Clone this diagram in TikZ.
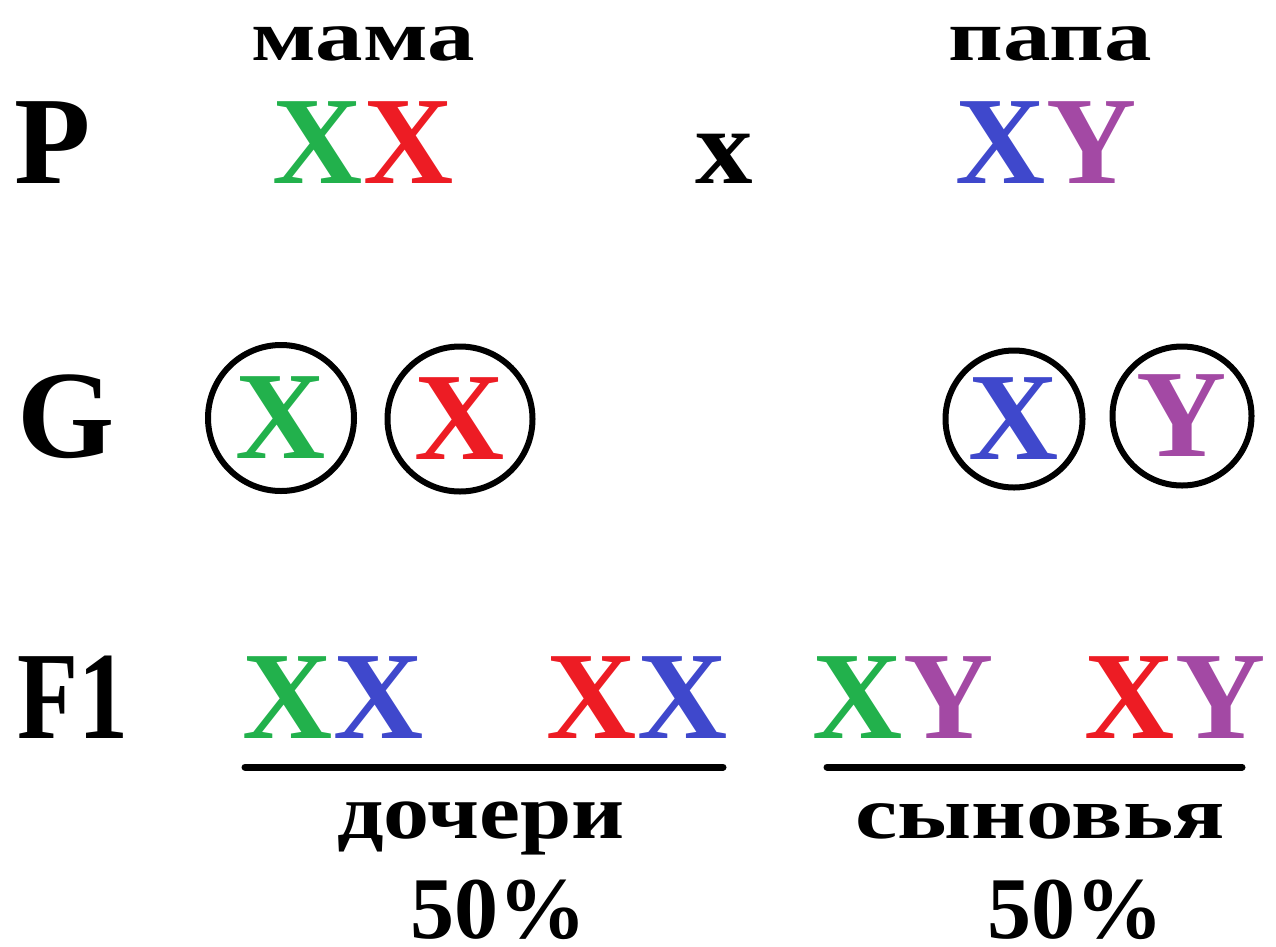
\documentclass[tikz,border=0pt]{standalone}
\usepackage{fontspec}
\setmainfont{Liberation Serif}
\definecolor{cgreen}{RGB}{34,177,76}
\definecolor{cred}{RGB}{237,28,36}
\definecolor{cblue}{RGB}{63,72,204}
\definecolor{cpurple}{RGB}{163,73,164}
\tikzset{
  big/.style={inner sep=0pt, anchor=base, font=\fontsize{125}{125}\selectfont\bfseries},
  word/.style={inner sep=0pt, anchor=base, font=\fontsize{95}{95}\selectfont\bfseries},
  pct/.style={inner sep=0pt, anchor=base, font=\fontsize{88}{88}\selectfont\bfseries},
  gamete/.style={circle, draw=black, line width=6pt, inner sep=0pt, minimum size=146pt, font=\fontsize{125}{125}\selectfont\bfseries},
  bar/.style={line width=7pt, line cap=round}
}
\begin{document}
\begin{tikzpicture}[x=1pt,y=-1pt]
\useasboundingbox (0,0) rectangle (1276,946);
% row P
\node[word] (mama) at (363,60) {\scalebox{1}[0.76]{мама}};
\node[word] (papa) at (1050,60) {\scalebox{1}[0.76]{папа}};
\node[big] (P) at (53,183) {P};
\node[big] (mom) at (363,183) {\textcolor{cgreen}{X}\textcolor{cred}{X}};
\node[big] (cross) at (724,183) {\scalebox{0.92}[0.86]{x}};
\node[big] (dad) at (1046,183) {\textcolor{cblue}{X}\textcolor{cpurple}{Y}};
% row G
\node[big] (G) at (66,457) {G};
\node[gamete, text=cgreen] (g1) at (281,418) {X};
\node[gamete, text=cred, minimum size=145pt] (g2) at (460,419) {X};
\node[gamete, text=cblue, minimum size=137pt] (g3) at (1014,419) {X};
\node[gamete, text=cpurple, minimum size=139pt] (g4) at (1182,416) {Y};
% row F1
\node[big] (F) at (73,738) {\scalebox{0.8}[1]{F1}};
\node[big] (d1) at (333,738) {\textcolor{cgreen}{X}\textcolor{cblue}{X}};
\node[big] (d2) at (637,738) {\textcolor{cred}{X}\textcolor{cblue}{X}};
\node[big] (s1) at (903,738) {\textcolor{cgreen}{X}\textcolor{cpurple}{Y}};
\node[big] (s2) at (1175,738) {\textcolor{cred}{X}\textcolor{cpurple}{Y}};
\coordinate (l1a) at (245,767);
\coordinate (l1b) at (723,767);
\coordinate (l2a) at (827,767);
\coordinate (l2b) at (1242,767);
\draw[bar] (l1a) -- (l1b);
\draw[bar] (l2a) -- (l2b);
\node[word] (dau) at (481,838) {\scalebox{0.97}[0.82]{дочери}};
\node[word] (son) at (1040,838) {\scalebox{1}[0.78]{сыновья}};
\node[pct] (p1) at (498,938) {50\%};
\node[pct] (p2) at (1075,938) {50\%};
\end{tikzpicture}
\end{document}
